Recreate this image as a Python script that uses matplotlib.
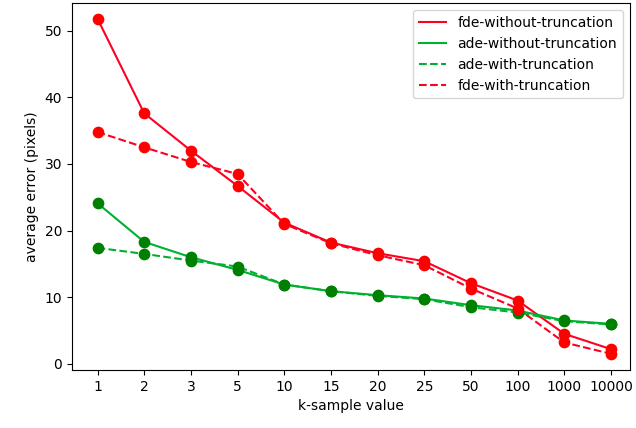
import numpy as np
import matplotlib
matplotlib.use('Agg')
import matplotlib.pyplot as plt

k_labels = ['1', '2', '3', '5', '10', '15', '20', '25', '50', '100', '1000', '10000']
fde_without = [51.8, 37.6, 32.0, 26.7, 21.2, 18.2, 16.6, 15.4, 12.1, 9.5, 4.5, 2.2]
ade_without = [24.1, 18.3, 16.0, 14.1, 11.9, 10.9, 10.3, 9.8, 8.8, 8.0, 6.5, 6.0]
ade_with = [17.4, 16.5, 15.5, 14.6, 11.9, 10.9, 10.2, 9.7, 8.5, 7.7, 6.4, 5.9]
fde_with = [34.8, 32.5, 30.3, 28.5, 21.0, 18.1, 16.3, 14.8, 11.3, 8.3, 3.2, 1.5]

x = np.arange(len(k_labels))

fig = plt.figure(figsize=(6.36, 4.28), dpi=100)
ax = fig.add_axes([0.113, 0.136, 0.877, 0.856])

red_line = '#ff0022'
green_line = '#00b030'

ax.plot(x, fde_without, color=red_line, label='fde-without-truncation')
ax.plot(x, ade_without, color=green_line, label='ade-without-truncation')
ax.plot(x, ade_with, '--', color=green_line, label='ade-with-truncation')
ax.plot(x, fde_with, '--', color=red_line, label='fde-with-truncation')

for ys, c in [(fde_without, 'r'), (ade_without, 'g'), (ade_with, 'g'), (fde_with, 'r')]:
    ax.scatter(x, ys, color=c, s=55, zorder=3)

ax.set_xticks(x)
ax.set_xticklabels(k_labels)
ax.set_xlabel('k-sample value')
ax.set_ylabel('average error (pixels)')
ax.set_ylim(-0.9, 54.1)
ax.set_xlim(-0.55, 11.4)
ax.legend(loc='upper right')

fig.savefig('out.png', dpi=100)
